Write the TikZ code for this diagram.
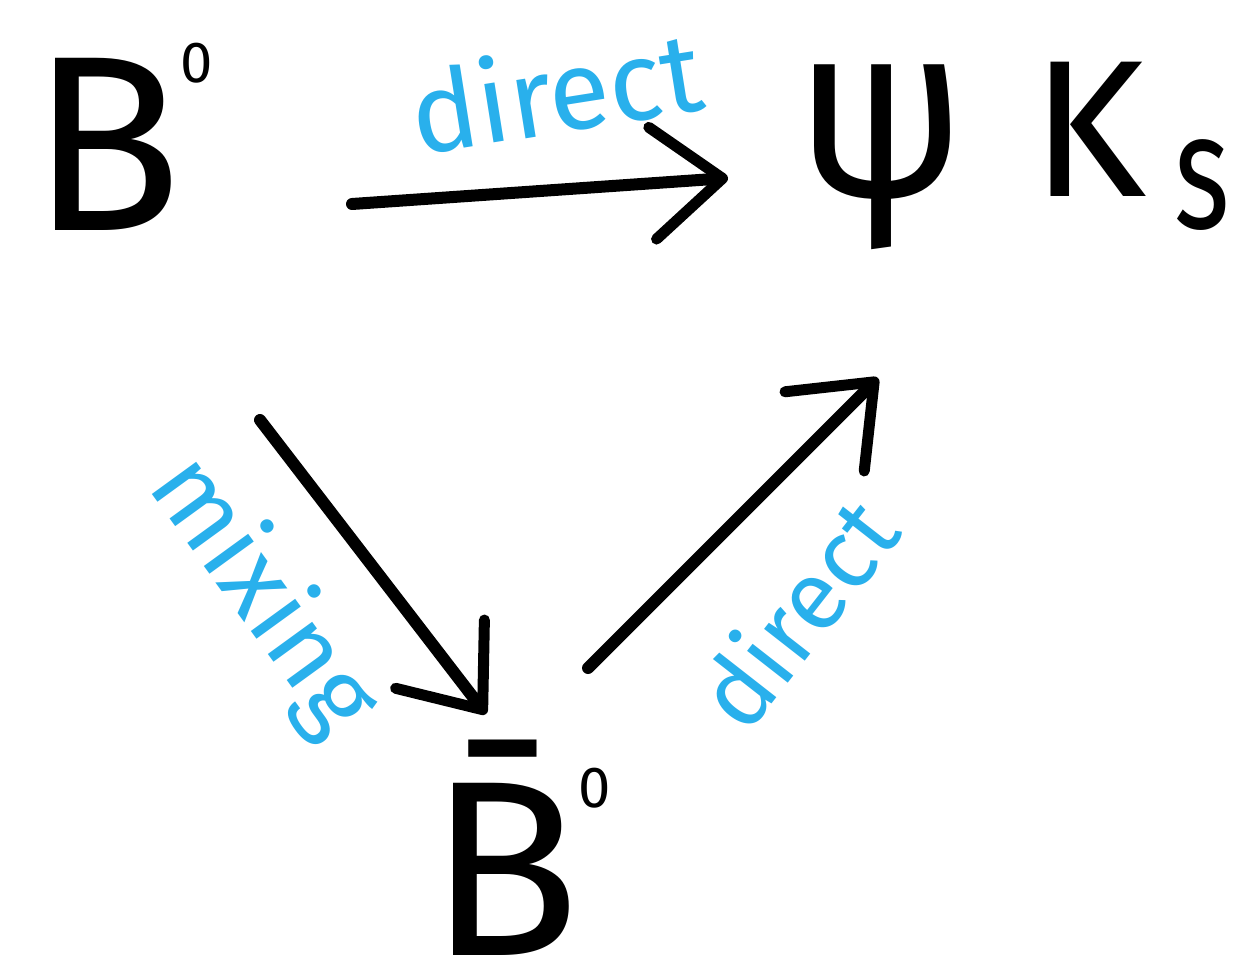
\documentclass[tikz,border=0pt]{standalone}
\usepackage{fontspec}
\setmainfont{Fira Sans}
\usetikzlibrary{arrows.meta}
\definecolor{labelblue}{RGB}{41,176,236}
\newcommand{\supzero}{\raisebox{148pt}{\fontsize{58}{58}\selectfont 0}}
\tikzset{
  particle/.style={font=\fontsize{250}{260}\selectfont, inner sep=0pt, text=black,
    anchor=base west, text depth=0pt},
  proc/.style={font=\fontsize{104}{112}\selectfont, inner sep=0pt, text=labelblue},
  link/.style={line width=12pt, line cap=round, line join=round,
    -{Straight Barb[length=70pt, width=112pt, line width=11pt, line cap=round, line join=round]}}
}
\begin{document}
\begin{tikzpicture}[x=1pt, y=-1pt]
  \useasboundingbox (0,0) rectangle (1241,972);

  % states
  \node[particle] (b0)    at (30,230) {B\hspace{-2pt}\supzero};
  \node[particle] (psik)  at (796,196)
    {\scalebox{0.9}[1]{ψ}\hspace{66pt}{\fontsize{195}{195}\selectfont K}\hspace{28pt}\raisebox{-32pt}{\scalebox{0.72}[1]{\fontsize{165}{165}\selectfont s}}};
  \node[particle] (b0bar) at (428,955) {\=B\hspace{-2pt}\supzero};

  % arrow end points
  \coordinate (a1s) at (352,204);
  \coordinate (a1e) at (728,178);
  \coordinate (a2s) at (260,420);
  \coordinate (a2e) at (486,714);
  \coordinate (a3s) at (588,668);
  \coordinate (a3e) at (878,378);

  \draw[link] (a1s) -- (a1e);
  \draw[link] (a2s) -- (a2e);
  \draw[link] (a3s) -- (a3e);

  % process labels
  \node[proc, font=\fontsize{112}{120}\selectfont, rotate=9] (ldir1) at (556,90) {direct};
  \node[proc, rotate=-54] (lmix)  at (262,596) {mixing};
  \node[proc, font=\fontsize{98}{106}\selectfont, rotate=52] (ldir2) at (796,612) {direct};
\end{tikzpicture}
\end{document}
